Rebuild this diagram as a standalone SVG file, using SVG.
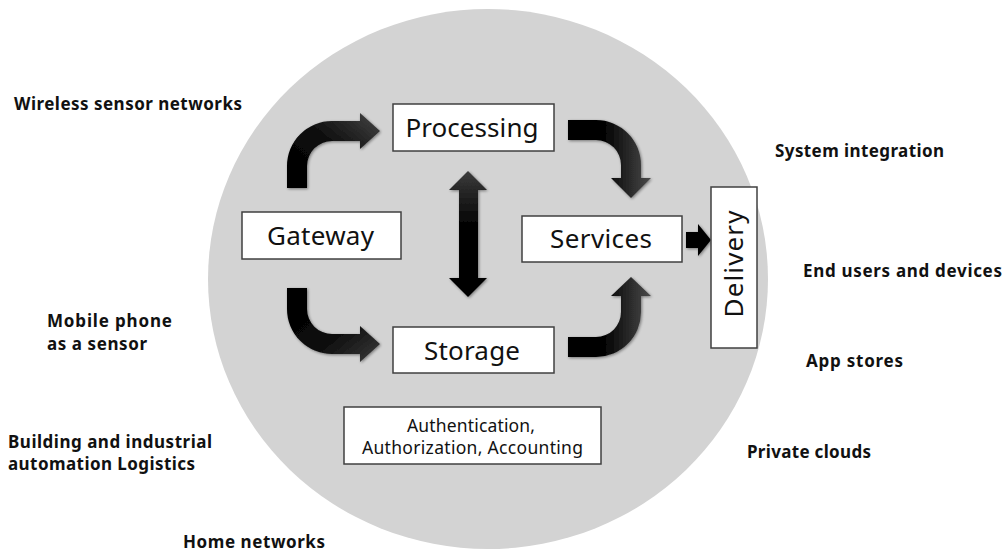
<svg xmlns="http://www.w3.org/2000/svg" width="1007" height="554" viewBox="0 0 1007 554">
  <style>
    .box { fill: #ffffff; stroke: #404040; stroke-width: 1.5; }
    .lbl { font-family: "Noto Sans", "Open Sans", "Liberation Sans", sans-serif; fill: #111111; }
    .big { font-size: 26px; text-anchor: middle; }
    .small { font-size: 17.5px; text-anchor: middle; }
    .side { font-family: "Noto Sans", "Open Sans", "Liberation Sans", sans-serif; font-size: 17px; font-weight: bold; fill: #111111; }
    .arrow { filter: url(#soft); }
  </style>
  <defs>
    <filter id="soft" x="-20%" y="-20%" width="140%" height="140%">
      <feGaussianBlur in="SourceAlpha" stdDeviation="1.6" result="b"/>
      <feOffset in="b" dx="1" dy="1" result="o"/>
      <feComponentTransfer in="o" result="s">
        <feFuncA type="linear" slope="0.45"/>
      </feComponentTransfer>
      <feGaussianBlur in="SourceGraphic" stdDeviation="0.5" result="g"/>
      <feMerge>
        <feMergeNode in="s"/>
        <feMergeNode in="g"/>
      </feMerge>
    </filter>
    <linearGradient id="gUpRight" x1="0" y1="1" x2="1" y2="0">
      <stop offset="0" stop-color="#000000"/>
      <stop offset="0.5" stop-color="#0a0a0a"/>
      <stop offset="1" stop-color="#464646"/>
    </linearGradient>
    <linearGradient id="gDownRight" x1="0" y1="0" x2="1" y2="1">
      <stop offset="0" stop-color="#000000"/>
      <stop offset="0.55" stop-color="#0a0a0a"/>
      <stop offset="1" stop-color="#3c3c3c"/>
    </linearGradient>
    <linearGradient id="gHoriz" x1="0" y1="0.5" x2="1" y2="0.5">
      <stop offset="0" stop-color="#000000"/>
      <stop offset="0.45" stop-color="#050505"/>
      <stop offset="1" stop-color="#4a4a4a"/>
    </linearGradient>
    <linearGradient id="gVert" x1="0" y1="0" x2="0" y2="1">
      <stop offset="0" stop-color="#3c3c3c"/>
      <stop offset="0.45" stop-color="#000000"/>
      <stop offset="1" stop-color="#000000"/>
    </linearGradient>
  </defs>

  <rect width="1007" height="554" fill="#ffffff"/>

  <!-- backdrop -->
  <ellipse id="backdrop" cx="488" cy="279" rx="280" ry="270" fill="#d3d3d3"/>

  <!-- block arrows -->
  <g id="connectors" class="arrow">
    <path id="gateway-to-processing" fill="url(#gUpRight)"
          d="M287,188 V166 A45,45 0 0 1 332,121 H360 V113 L380,131 L360,149 V141 H332 A25,25 0 0 0 307,166 V188 Z"/>
    <path id="gateway-to-storage" fill="url(#gDownRight)"
          d="M287,288 V309 A45,45 0 0 0 332,354 H360 V362 L380,344 L360,326 V334 H332 A25,25 0 0 1 307,309 V288 Z"/>
    <path id="storage-to-services" fill="url(#gHoriz)"
          d="M568,337 H596 A25,25 0 0 0 621,312 V296 H611 L631,277 L651,296 H641 V312 A45,45 0 0 1 596,357 H568 Z"/>
    <path id="processing-to-services" fill="url(#gHoriz)"
          d="M568,120 H596 A45,45 0 0 1 641,165 V178 H651 L631,198 L611,178 H621 V165 A25,25 0 0 0 596,140 H568 Z"/>
    <path id="processing-storage" fill="url(#gVert)"
          d="M468,171 L487,190 H478 V278 H487 L468,297 L449,278 H459 V190 H449 Z"/>
    <path id="services-to-delivery" fill="#000000"
          d="M686,232 H698 V224 L711,240 L698,256 V248 H686 Z"/>
  </g>

  <!-- nodes -->
  <g id="processing">
    <rect class="box" x="393" y="104" width="161" height="47"/>
    <text class="lbl big" x="472" y="137" textLength="133">Processing</text>
  </g>
  <g id="gateway">
    <rect class="box" x="242" y="212" width="159" height="47"/>
    <text class="lbl big" x="320.5" y="245" textLength="107">Gateway</text>
  </g>
  <g id="services">
    <rect class="box" x="522" y="216" width="160" height="46"/>
    <text class="lbl big" x="601" y="248" textLength="102">Services</text>
  </g>
  <g id="storage">
    <rect class="box" x="393" y="327" width="161" height="46"/>
    <text class="lbl big" x="472" y="360" textLength="96">Storage</text>
  </g>
  <g id="delivery">
    <rect class="box" x="711" y="187" width="46" height="161"/>
    <text class="lbl big" transform="translate(743,264) rotate(-90)" x="0" y="0" textLength="107">Delivery</text>
  </g>
  <g id="aaa">
    <rect class="box" x="344" y="407" width="257" height="57"/>
    <text class="lbl small" x="471" y="432" textLength="128">Authentication,</text>
    <text class="lbl small" x="472.5" y="454" textLength="221">Authorization, Accounting</text>
  </g>

  <!-- surrounding labels -->
  <g id="side-labels">
    <text class="side" x="14" y="110" textLength="228">Wireless sensor networks</text>
    <text class="side" x="47" y="327" textLength="125">Mobile phone</text>
    <text class="side" x="47" y="350" textLength="100">as a sensor</text>
    <text class="side" x="8" y="448" textLength="204">Building and industrial</text>
    <text class="side" x="8" y="470" textLength="187">automation Logistics</text>
    <text class="side" x="183" y="548" textLength="142">Home networks</text>
    <text class="side" x="775" y="157" textLength="169">System integration</text>
    <text class="side" x="803" y="277" textLength="199">End users and devices</text>
    <text class="side" x="806" y="367" textLength="97">App stores</text>
    <text class="side" x="747" y="458" textLength="124">Private clouds</text>
  </g>
</svg>
